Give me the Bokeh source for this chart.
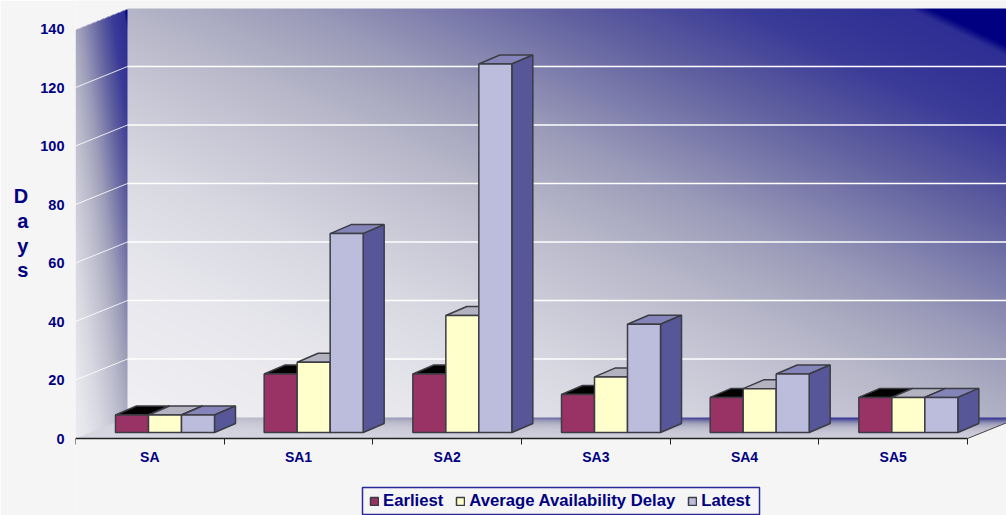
import numpy as np
from bokeh.embed import file_html
from bokeh.models import BoxAnnotation, FixedTicker, Legend, LegendItem, LinearAxis, Range1d
from bokeh.plotting import figure
from bokeh.resources import INLINE

categories = ["SA", "SA1", "SA2", "SA3", "SA4", "SA5"]
earliest = [6, 20, 20, 13, 12, 12]
average_delay = [6, 24, 40, 19, 15, 12]
latest = [6, 68, 126, 37, 20, 12]
y_ticks = [0, 20, 40, 60, 80, 100, 120, 140]

W, H = 1006, 515
FRAME_L, FRAME_B = 75, 438
PX_PER_GROUP = 148.67
PX_PER_DAY = 2.925
FONT = "Liberation Sans"
NAVY = "#000080"
BG = "#f5f5f5"
WALL_DX, WALL_DY = 52, 21
ux = 1 / PX_PER_GROUP
uy = 1 / PX_PER_DAY

frame_w, frame_h = W - FRAME_L, FRAME_B
p = figure(width=W, height=H, output_backend="svg", toolbar_location=None,
           x_range=Range1d(0, frame_w * ux), y_range=Range1d(-(H - FRAME_B) * uy, frame_h * uy),
           x_axis_type=None, y_axis_type=None, background_fill_color=BG,
           border_fill_color=BG, outline_line_color=None, min_border_left=FRAME_L,
           min_border_right=0, min_border_top=0, min_border_bottom=0)
p.grid.visible = False

# wall and floor gradient, as one picture
stops_s = [-400, -200, -100, 0, 50, 130, 200, 260, 350, 428, 438]
stops_c = ["f5f5f7", "e6e6ec", "d8d8e2", "c2c2d2", "b6b6c8", "9c9cba", "7c7cac", "6060a0", "3a3a98", "2e2e94", "000080"]
rgb = np.array([[int(c[i:i + 2], 16) for i in (0, 2, 4)] for c in stops_c], float)
def ramp(s):
    return np.stack([np.interp(s, stops_s, rgb[:, k]) for k in range(3)], -1)
xx, yy = np.meshgrid(np.arange(FRAME_L, W) + 0.5, np.arange(0, FRAME_B) + 0.5)
back_x = FRAME_L + WALL_DX
back_b = FRAME_B - WALL_DY
img = np.zeros(xx.shape + (4,), np.uint8)
back = (xx >= back_x) & (yy >= 8.5) & (yy <= back_b)
left = (xx < back_x) & (yy >= 29.5 - (xx - FRAME_L) * WALL_DY / WALL_DX) & (yy <= FRAME_B - (xx - FRAME_L) * WALL_DY / WALL_DX)
floor = (yy > back_b) & (yy <= FRAME_B) & (xx >= FRAME_L + (FRAME_B - yy) * WALL_DX / WALL_DY) & (xx <= FRAME_L + 892 + (FRAME_B - yy) * WALL_DX / WALL_DY)
s = 0.48 * xx - yy
s_left = 6.5 * (xx - back_x) + 450 - 0.9 * (yy - 9)
fade = 1 - np.exp(-(yy - back_b) / 8)
s_floor = -100 * fade + np.minimum(0.7 * xx - 130, 400) * (1 - fade)
img[..., :3][back] = ramp(s[back])
img[..., :3][left] = ramp(s_left[left])
img[..., :3][floor] = ramp(s_floor[floor])
img[..., 3] = (back | left | floor) * 255
packed = img[::-1].view(dtype=np.uint32).reshape(xx.shape)
p.image_rgba(image=[packed], x=0, y=0, dw=frame_w * ux, dh=frame_h * uy)

# grid lines on the two walls
for t in y_ticks[1:-1]:
    p.segment([0], [t], [WALL_DX * ux], [t + WALL_DY * uy], line_color="white", line_width=1, line_alpha=0.85)
    p.segment([WALL_DX * ux], [t + WALL_DY * uy], [frame_w * ux], [t + WALL_DY * uy], line_color="white", line_width=1.3)
# front right floor edge
p.segment([6], [0], [6 + WALL_DX * ux], [WALL_DY * uy], line_color="#444444", line_width=1)

# bars in oblique projection
BAR_W = 33 * ux
BAR_START = 40 * ux
BAR_BASE = 6 * uy
DX, DY = 21 * ux, 9 * uy
OUT = "#3c3c44"
series = [("Earliest", earliest, "#993366", "#000000", "#000000"),
          ("Average Availability Delay", average_delay, "#ffffcc", "#b2b2c0", "#8c8c70"),
          ("Latest", latest, "#bcbcdc", "#8484b8", "#565699")]
items = []
for j, (name, vals, front, top, side) in enumerate(series):
    x0 = [i + BAR_START + j * BAR_W for i in range(len(vals))]
    x1 = [x + BAR_W for x in x0]
    ytop = [v + BAR_BASE for v in vals]
    p.patches([[a, a + DX, b + DX, b] for a, b in zip(x0, x1)],
              [[t, t + DY, t + DY, t] for t in ytop],
              fill_color=top, line_color=OUT, line_width=1.5)
    p.patches([[b, b + DX, b + DX, b] for b in x1],
              [[BAR_BASE, BAR_BASE + DY, t + DY, t] for t in ytop],
              fill_color=side, line_color=OUT, line_width=1.5)
    r = p.quad(left=x0, right=x1, bottom=BAR_BASE, top=ytop, fill_color=front, line_color=OUT, line_width=1.5)
    items.append(LegendItem(label=name, renderers=[r]))

# axes
yaxis = LinearAxis(ticker=FixedTicker(ticks=y_ticks), axis_line_color=None,
                   major_tick_line_color=None, minor_tick_line_color=None,
                   major_label_text_font=FONT, major_label_text_font_style="bold",
                   major_label_text_font_size="14.5px", major_label_text_color=NAVY,
                   major_label_standoff=5, axis_label="D\na\ny\ns\n\n",
                   axis_label_orientation="horizontal", axis_label_text_font=FONT,
                   axis_label_text_font_style="bold", axis_label_text_font_size="20px",
                   axis_label_text_color=NAVY, axis_label_standoff=9,
                   axis_label_text_line_height=1.13)
p.add_layout(yaxis, "left")
xaxis = LinearAxis(ticker=FixedTicker(ticks=[i + 0.5 for i in range(6)], minor_ticks=list(range(7))),
                   bounds=(0, 6), fixed_location=0, axis_line_color="#222222", axis_line_width=1.3,
                   major_tick_line_color=None, major_tick_out=0, major_tick_in=0,
                   minor_tick_line_color="#222222", minor_tick_out=6, minor_tick_in=0,
                   major_label_overrides={i + 0.5: c for i, c in enumerate(categories)},
                   major_label_text_font=FONT, major_label_text_font_style="bold",
                   major_label_text_font_size="14px", major_label_text_color=NAVY,
                   major_label_standoff=4)
p.add_layout(xaxis, "below")

legend_box = BoxAnnotation(left=287, right=684, top=28, bottom=1, left_units="screen",
                           right_units="screen", top_units="screen", bottom_units="screen",
                           fill_color=BG, fill_alpha=1, line_color="#2a2a98", line_width=1.5,
                           line_alpha=1, editable=False)
p.add_layout(legend_box)

legend = Legend(items=items, orientation="horizontal", location=(294, 4),
                background_fill_alpha=0, border_line_color=None,
                label_text_font=FONT, label_text_font_style="bold", label_text_font_size="16.7px",
                label_text_color=NAVY, glyph_width=10, glyph_height=10,
                label_standoff=4, spacing=12, padding=2, margin=0, label_height=15)
p.add_layout(legend, "center")

html = file_html(p, INLINE)
open("out.html", "w").write(html)
